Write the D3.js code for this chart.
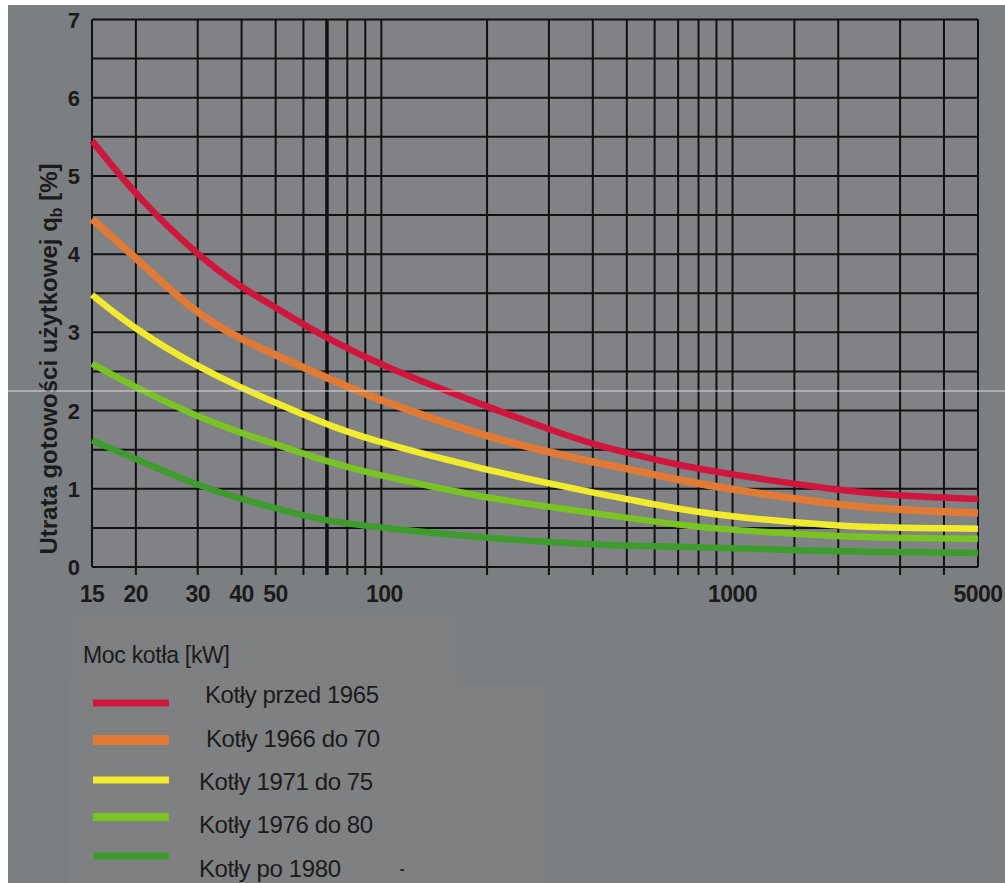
<!DOCTYPE html>
<html>
<head>
<meta charset="utf-8">
<script src="https://cdn.jsdelivr.net/npm/d3@7"></script>
<style>
  body { margin: 0; background: #fff; }
  svg text { font-family: "Liberation Sans", Arial, sans-serif; fill: #1b1b1b; }
</style>
</head>
<body>
<svg id="chart" width="1005" height="883"></svg>
<script>
// moc kotła [kW]
const powerKW = [15, 20, 30, 40, 50, 60, 70, 100, 200, 300, 400, 500, 700, 1000, 2000, 3000, 5000];

// utrata gotowości użytkowej qb [%]
const przed1965 = [5.45, 4.75, 3.98, 3.57, 3.32, 3.10, 2.93, 2.57, 2.05, 1.76, 1.57, 1.46, 1.30, 1.18, 0.98, 0.91, 0.87];
const od1966do70 = [4.45, 3.95, 3.22, 2.91, 2.71, 2.55, 2.42, 2.12, 1.66, 1.47, 1.34, 1.26, 1.11, 0.99, 0.79, 0.73, 0.69];
const od1971do75 = [3.48, 3.03, 2.56, 2.29, 2.10, 1.95, 1.82, 1.58, 1.24, 1.07, 0.95, 0.87, 0.74, 0.64, 0.52, 0.50, 0.49];
const od1976do80 = [2.60, 2.29, 1.92, 1.71, 1.57, 1.45, 1.35, 1.16, 0.88, 0.77, 0.69, 0.63, 0.54, 0.47, 0.39, 0.37, 0.36];
const po1980 = [1.62, 1.38, 1.04, 0.87, 0.75, 0.66, 0.59, 0.50, 0.37, 0.32, 0.29, 0.27, 0.26, 0.24, 0.20, 0.19, 0.18];

const seriesNames = ["Kotły przed 1965", "Kotły 1966 do 70", "Kotły 1971 do 75", "Kotły 1976 do 80", "Kotły po 1980"];
const seriesColors = ["#d0163c", "#e07a34", "#f2ea2c", "#79c423", "#3d9c2c"];

const xGridValues = [15, 20, 30, 40, 50, 60, 70, 80, 90, 100, 200, 300, 400, 500, 600, 700, 800, 900, 1000, 1500, 2000, 3000, 4000, 5000];
const xTickLabels = [15, 20, 30, 40, 50, 100, 1000, 5000];
const yTickLabels = [0, 1, 2, 3, 4, 5, 6, 7];

const svg = d3.select("#chart");

// tło
svg.append("rect").attr("x", 8).attr("y", 5).attr("width", 997).attr("height", 878).attr("fill", "#7c7f81");
svg.append("rect").attr("x", 68).attr("y", 615).attr("width", 392).attr("height", 70).attr("fill", "#7e7f81");
svg.append("rect").attr("x", 68).attr("y", 685).attr("width", 477).attr("height", 198).attr("fill", "#7f8081");

const x = d3.scaleLog().domain([15, 5000]).range([92, 978]);
const y = d3.scaleLinear().domain([0, 7]).range([567, 19.5]);

const plot = svg.append("g");
plot.append("rect")
  .attr("x", x(15)).attr("y", y(7))
  .attr("width", x(5000) - x(15)).attr("height", y(0) - y(7))
  .attr("fill", "#808285");

// siatka
plot.selectAll(".hgrid")
  .data(d3.range(0, 7.01, 0.5))
  .enter().append("line")
  .attr("x1", x(15)).attr("x2", x(5000))
  .attr("y1", d => y(d)).attr("y2", d => y(d))
  .attr("stroke", "#111").attr("stroke-width", 2);

plot.selectAll(".vgrid")
  .data(xGridValues)
  .enter().append("line")
  .attr("x1", d => x(d)).attr("x2", d => x(d))
  .attr("y1", y(7)).attr("y2", d => (d === 15 || d === 5000) ? y(0) : y(0) + 8)
  .attr("stroke", "#111")
  .attr("stroke-width", d => d === 70 ? 3.5 : 2);

// krzywe
const allSeries = [przed1965, od1966do70, od1971do75, od1976do80, po1980];
const line = d3.line()
  .x((d, i) => x(powerKW[i]))
  .y(d => y(d))
  .curve(d3.curveBasis);

plot.selectAll(".curve")
  .data(allSeries)
  .enter().append("path")
  .attr("d", d => line(d))
  .attr("fill", "none")
  .attr("stroke", (d, i) => seriesColors[i])
  .attr("stroke-width", (d, i) => i === 1 ? 7.5 : 6.5)
  .attr("stroke-linecap", "butt");

// osie
svg.selectAll(".xlab")
  .data(xTickLabels)
  .enter().append("text")
  .attr("x", d => x(d) + (d === 100 ? 3 : 0))
  .attr("y", 602)
  .attr("text-anchor", "middle")
  .attr("font-size", 23)
  .attr("font-weight", "bold")
  .attr("letter-spacing", -0.5)
  .text(d => d);

svg.selectAll(".ylab")
  .data(yTickLabels)
  .enter().append("text")
  .attr("x", 80)
  .attr("y", d => y(d) + 8)
  .attr("text-anchor", "end")
  .attr("font-size", 22)
  .attr("font-weight", "bold")
  .text(d => d);

const yTitle = svg.append("text")
  .attr("transform", "translate(57," + 359 + ") rotate(-90)")
  .attr("text-anchor", "middle")
  .attr("font-size", 24)
  .attr("font-weight", "bold");
yTitle.append("tspan").text("Utrata gotowości użytkowej q");
yTitle.append("tspan").attr("font-size", 16).attr("dy", 5).text("b");
yTitle.append("tspan").attr("dy", -5).text(" [%]");

// legenda
svg.append("text")
  .attr("x", 83).attr("y", 663)
  .attr("font-size", 23)
  .attr("letter-spacing", -0.3)
  .text("Moc kotła [kW]");

const legendLineY = [703, 740, 780, 817, 856];
const legendTextX = [205, 206, 199, 199, 199];
const legendTextY = [703, 747, 790, 833, 877];
const legendWidths = [7, 10, 7, 8, 7];

const legend = svg.selectAll(".legend")
  .data(seriesNames)
  .enter().append("g");

legend.append("line")
  .attr("x1", 93).attr("x2", 169)
  .attr("y1", (d, i) => legendLineY[i]).attr("y2", (d, i) => legendLineY[i])
  .attr("stroke", (d, i) => seriesColors[i])
  .attr("stroke-width", (d, i) => legendWidths[i]);

legend.append("text")
  .attr("x", (d, i) => legendTextX[i])
  .attr("y", (d, i) => legendTextY[i])
  .attr("font-size", 24)
  .attr("letter-spacing", -0.4)
  .text(d => d);

svg.append("text")
  .attr("x", 402).attr("y", 874)
  .attr("font-size", 14)
  .attr("font-weight", "bold")
  .attr("text-anchor", "middle")
  .text("-");

// jasna linia przez obraz
svg.append("line")
  .attr("x1", 8).attr("x2", 1005).attr("y1", 391).attr("y2", 391)
  .attr("stroke", "#dcdcdc").attr("stroke-width", 1);
</script>
</body>
</html>
